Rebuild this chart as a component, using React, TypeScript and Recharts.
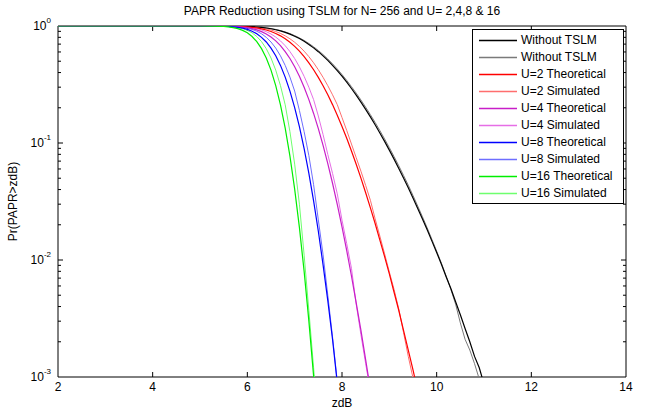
import React from 'react';
import { LineChart, Line, XAxis, YAxis, ReferenceLine, ReferenceArea, Legend } from 'recharts';

const FONT = '"Liberation Sans", Arial, Helvetica, sans-serif';

// x grid (dB)
const zdB = [2, 5, 5.5, 5.6, 5.7, 5.8, 5.9, 6, 6.1, 6.2, 6.3, 6.4, 6.5, 6.6, 6.7, 6.8, 6.9, 7, 7.1, 7.2, 7.3, 7.4, 7.5, 7.6, 7.7, 7.8, 7.9, 8, 8.1, 8.2, 8.3, 8.4, 8.5, 8.6, 8.7, 8.8, 8.9, 9, 9.1, 9.2, 9.3, 9.4, 9.5, 9.6, 9.7, 9.8, 9.9, 10, 10.1, 10.2, 10.3, 10.4, 10.5, 10.6, 10.7, 10.8, 10.9, 11];

const withoutTSLM = [1, 1, 0.9994, 0.9989, 0.998, 0.9967, 0.9947, 0.9916, 0.9872, 0.981, 0.9725, 0.9614, 0.9471, 0.9293, 0.9076, 0.8819, 0.8521, 0.8181, 0.7806, 0.7397, 0.6961, 0.6504, 0.6034, 0.5557, 0.5081, 0.4613, 0.4158, 0.3722, 0.331, 0.2923, 0.2566, 0.2238, 0.1939, 0.1671, 0.1432, 0.1218, 0.1032, 0.0869, 0.0728, 0.0606, 0.0502, 0.0414, 0.0339, 0.0276, 0.0224, 0.0181, 0.0145, 0.0116, 0.0092, 0.0072, 0.0057, 0.0044, 0.0034, 0.0026, 0.002, 0.0015, 0.0012, 0.00087];
const withoutTSLMSim = [1, 1, 0.9995, 0.999, 0.9983, 0.9971, 0.9953, 0.9926, 0.9886, 0.983, 0.9752, 0.965, 0.9516, 0.9348, 0.9142, 0.8896, 0.861, 0.8284, 0.7918, 0.7523, 0.7092, 0.6642, 0.6178, 0.5701, 0.5222, 0.4751, 0.4292, 0.3847, 0.3428, 0.3034, 0.2668, 0.2331, 0.2024, 0.1747, 0.1499, 0.1277, 0.1083, 0.0913, 0.0766, 0.0638, 0.0529, 0.0436, 0.0356, 0.0289, 0.0234, 0.0188, 0.015, 0.0119, 0.0094, 0.0073, 0.0056, 0.0042, 0.0029, 0.0021, 0.0017, 0.0013, 0.00096, 0.0007];

const u2Theory = [1, 1, 0.9987, 0.9977, 0.9961, 0.9934, 0.9893, 0.9833, 0.9745, 0.9623, 0.9458, 0.9243, 0.8971, 0.8636, 0.8238, 0.7777, 0.7261, 0.6693, 0.6093, 0.5472, 0.4846, 0.423, 0.3641, 0.3088, 0.2582, 0.2128, 0.1729, 0.1385, 0.1096, 0.0854, 0.0658, 0.0501, 0.0376, 0.0279, 0.0205, 0.0148, 0.0107, 0.0076, 0.0053, 0.0037, 0.0025, 0.0017, 0.00115, 0.00076];
const u2Sim = [1, 1, 0.9995, 0.9987, 0.9977, 0.9961, 0.9934, 0.9893, 0.9833, 0.9745, 0.9623, 0.9458, 0.9243, 0.8971, 0.8636, 0.8238, 0.7777, 0.7261, 0.6693, 0.6093, 0.5472, 0.4846, 0.423, 0.3641, 0.3088, 0.2582, 0.2128, 0.165, 0.128, 0.098, 0.075, 0.0574, 0.0434, 0.0324, 0.0225, 0.016, 0.0113, 0.0079, 0.0056, 0.0038, 0.0024, 0.0015, 0.00098, 0.0007];

const u4Theory = [1, 1, 0.9975, 0.9955, 0.9921, 0.9869, 0.9788, 0.9669, 0.9496, 0.926, 0.8945, 0.8543, 0.8048, 0.7458, 0.6787, 0.6048, 0.5272, 0.448, 0.3712, 0.2994, 0.2348, 0.1789, 0.1326, 0.0954, 0.0667, 0.0453, 0.0299, 0.0192, 0.012, 0.0073, 0.0043, 0.0025, 0.0014, 0.00078];
const u4Sim = [1, 1, 0.9987, 0.9975, 0.9955, 0.9921, 0.9869, 0.9788, 0.9669, 0.9496, 0.926, 0.8945, 0.8543, 0.8048, 0.7458, 0.6787, 0.6048, 0.5272, 0.448, 0.3712, 0.2994, 0.2348, 0.17, 0.118, 0.0798, 0.055, 0.0368, 0.0219, 0.0138, 0.0085, 0.0042, 0.0023, 0.0013, 0.00075];

const u8Theory = [1, 1, 0.995, 0.991, 0.9843, 0.974, 0.958, 0.9349, 0.9018, 0.8575, 0.8001, 0.7298, 0.6477, 0.5562, 0.4606, 0.3658, 0.2779, 0.2007, 0.1378, 0.0896, 0.0551, 0.032, 0.0176, 0.0091, 0.0045, 0.0021, 0.00089];
const u8Sim = [1, 1, 0.9975, 0.995, 0.991, 0.9843, 0.974, 0.958, 0.9349, 0.9018, 0.8575, 0.8001, 0.7298, 0.6477, 0.5562, 0.4606, 0.3658, 0.2779, 0.19, 0.125, 0.078, 0.044, 0.022, 0.0111, 0.005, 0.0022, 0.00092];

const u16Theory = [1, 1, 0.99, 0.9821, 0.9689, 0.9486, 0.9177, 0.874, 0.8132, 0.7353, 0.6402, 0.5326, 0.4195, 0.3094, 0.2122, 0.1338, 0.0772, 0.0403, 0.019, 0.008, 0.003, 0.00102, 0.00031];
const u16Sim = [1, 1, 0.995, 0.99, 0.9821, 0.9689, 0.9486, 0.9177, 0.874, 0.8132, 0.7353, 0.6402, 0.5326, 0.4195, 0.3094, 0.2122, 0.125, 0.066, 0.03, 0.011, 0.0037, 0.0012, 0.00037];

const xTicks = [2, 4, 6, 8, 10, 12, 14];
const yTicks = [0.001, 0.01, 0.1, 1];
const minorMultipliers = [2, 3, 4, 5, 6, 7, 8, 9];

const seriesNames = ['Without TSLM', 'Without TSLM', 'U=2 Theoretical', 'U=2 Simulated', 'U=4 Theoretical', 'U=4 Simulated', 'U=8 Theoretical', 'U=8 Simulated', 'U=16 Theoretical', 'U=16 Simulated'];
const seriesKeys = ['w', 'ws', 'u2', 'u2s', 'u4', 'u4s', 'u8', 'u8s', 'u16', 'u16s'];
const seriesColors = ['#000000', '#7a7a7a', '#ff0000', '#ff6e6e', '#c81ec8', '#e66ee6', '#0000ff', '#6e6eff', '#00ee00', '#6eff6e'];
const seriesWidths = [1.2, 1, 1.2, 1, 1.2, 1, 1.2, 1, 1.2, 1];

const seriesValues = [withoutTSLM, withoutTSLMSim, u2Theory, u2Sim, u4Theory, u4Sim, u8Theory, u8Sim, u16Theory, u16Sim];

const data = zdB.map((x, i) => {
  const row: any = { x };
  seriesKeys.forEach((k, j) => {
    const v = seriesValues[j][i];
    if (v !== undefined) row[k] = v;
  });
  return row;
});

// draw order: simulated first, theoretical on top
const drawOrder = [1, 3, 5, 7, 9, 0, 2, 4, 6, 8];

// tick lengths expressed in data units (plot: 47.33 px per dB, 117 px per decade)
const X_MAJOR = 5 / 47.33;
const X_MINOR = 3 / 47.33;
const Y_MAJOR = Math.pow(10, 5 / 117);

const YTick = (props: any) => {
  const { x, y, payload } = props;
  const e = Math.round(Math.log10(payload.value));
  return (
    <text x={x} y={y + 4} textAnchor="end" fontSize={12} fill="#000" fontFamily={FONT}>
      <tspan>10</tspan>
      <tspan fontSize={8} dy={-7}>{String(e)}</tspan>
    </text>
  );
};

const LegendBox = () => (
  <div
    style={{
      width: 152,
      height: 175,
      border: '1px solid #000',
      background: '#fff',
      boxSizing: 'border-box',
      position: 'relative',
      fontFamily: FONT,
      fontSize: 12,
      color: '#000',
    }}
  >
    {seriesNames.map((name, i) => (
      <div
        key={i}
        style={{
          position: 'absolute',
          left: 0,
          top: Math.round(2 + i * 17.03),
          height: 17,
          width: 150,
          display: 'flex',
          alignItems: 'center',
        }}
      >
        <svg width={38} height={17} style={{ marginLeft: 6, flex: 'none', display: 'block' }}>
          <line x1={0} x2={38} y1={8.5} y2={8.5} stroke={seriesColors[i]} strokeWidth={1.5} />
        </svg>
        <span style={{ marginLeft: 4, whiteSpace: 'nowrap', lineHeight: '17px' }}>{name}</span>
      </div>
    ))}
  </div>
);

export default function App() {
  const tickLines: any[] = [];
  xTicks.slice(1, -1).forEach((t) => {
    tickLines.push(<ReferenceLine key={'xb' + t} segment={[{ x: t, y: 0.001 }, { x: t, y: 0.001 * Y_MAJOR }]} stroke="#000" />);
    tickLines.push(<ReferenceLine key={'xt' + t} segment={[{ x: t, y: 1 }, { x: t, y: 1 / Y_MAJOR }]} stroke="#000" />);
  });
  yTicks.slice(1, -1).forEach((t) => {
    tickLines.push(<ReferenceLine key={'yl' + t} segment={[{ x: 2, y: t }, { x: 2 + X_MAJOR, y: t }]} stroke="#000" />);
    tickLines.push(<ReferenceLine key={'yr' + t} segment={[{ x: 14, y: t }, { x: 14 - X_MAJOR, y: t }]} stroke="#000" />);
  });
  yTicks.slice(0, -1).forEach((d) => {
    minorMultipliers.forEach((m) => {
      const v = d * m;
      tickLines.push(<ReferenceLine key={'ml' + v} segment={[{ x: 2, y: v }, { x: 2 + X_MINOR, y: v }]} stroke="#000" />);
      tickLines.push(<ReferenceLine key={'mr' + v} segment={[{ x: 14, y: v }, { x: 14 - X_MINOR, y: v }]} stroke="#000" />);
    });
  });

  return (
    <div style={{ position: 'absolute', left: 0, top: 0, width: 646, height: 412, background: '#fff' }}>
      <div
        style={{
          position: 'absolute',
          left: 58,
          top: 4,
          width: 568,
          textAlign: 'center',
          fontFamily: FONT,
          fontSize: 12,
          lineHeight: '14px',
          color: '#000',
          whiteSpace: 'nowrap',
        }}
      >
        PAPR Reduction using TSLM for N= 256 and U= 2,4,8 &amp; 16
      </div>
      <LineChart width={646} height={412} data={data} margin={{ top: 26, right: 20, bottom: 0, left: 0 }}>
        <XAxis
          dataKey="x"
          type="number"
          domain={[2, 14]}
          ticks={xTicks}
          allowDataOverflow
          height={35}
          tickSize={0}
          tickMargin={5}
          axisLine={false}
          tickLine={false}
          tick={{ fontSize: 12, fill: '#000', fontFamily: FONT }}
          label={{ value: 'zdB', position: 'insideBottom', offset: 5, fontSize: 12, fill: '#000', fontFamily: FONT }}
        />
        <YAxis
          type="number"
          scale="log"
          domain={[0.001, 1]}
          ticks={yTicks}
          allowDataOverflow
          width={58}
          tickSize={0}
          tickMargin={7}
          axisLine={false}
          tickLine={false}
          tick={<YTick />}
          label={{
            content: () => (
              <text
                x={17}
                y={201.5}
                transform="rotate(-90 17 201.5)"
                textAnchor="middle"
                fontSize={12}
                fill="#000"
                fontFamily={FONT}
              >
                {'Pr(PAPR>zdB)'}
              </text>
            ),
          }}
        />
        <ReferenceArea x1={2} x2={14} y1={0.001} y2={1} fill="none" stroke="#000" strokeWidth={1} />
        {tickLines}
        {drawOrder.map((j) => (
          <Line
            key={seriesKeys[j]}
            dataKey={seriesKeys[j]}
            name={seriesNames[j]}
            stroke={seriesColors[j]}
            strokeWidth={seriesWidths[j]}
            dot={false}
            activeDot={false}
            type="linear"
            isAnimationActive={false}
          />
        ))}
        <Legend
          layout="horizontal"
          verticalAlign="middle"
          align="center"
          wrapperStyle={{ left: 472, top: 29, width: 152, height: 175 }}
          content={<LegendBox />}
        />
      </LineChart>
    </div>
  );
}
